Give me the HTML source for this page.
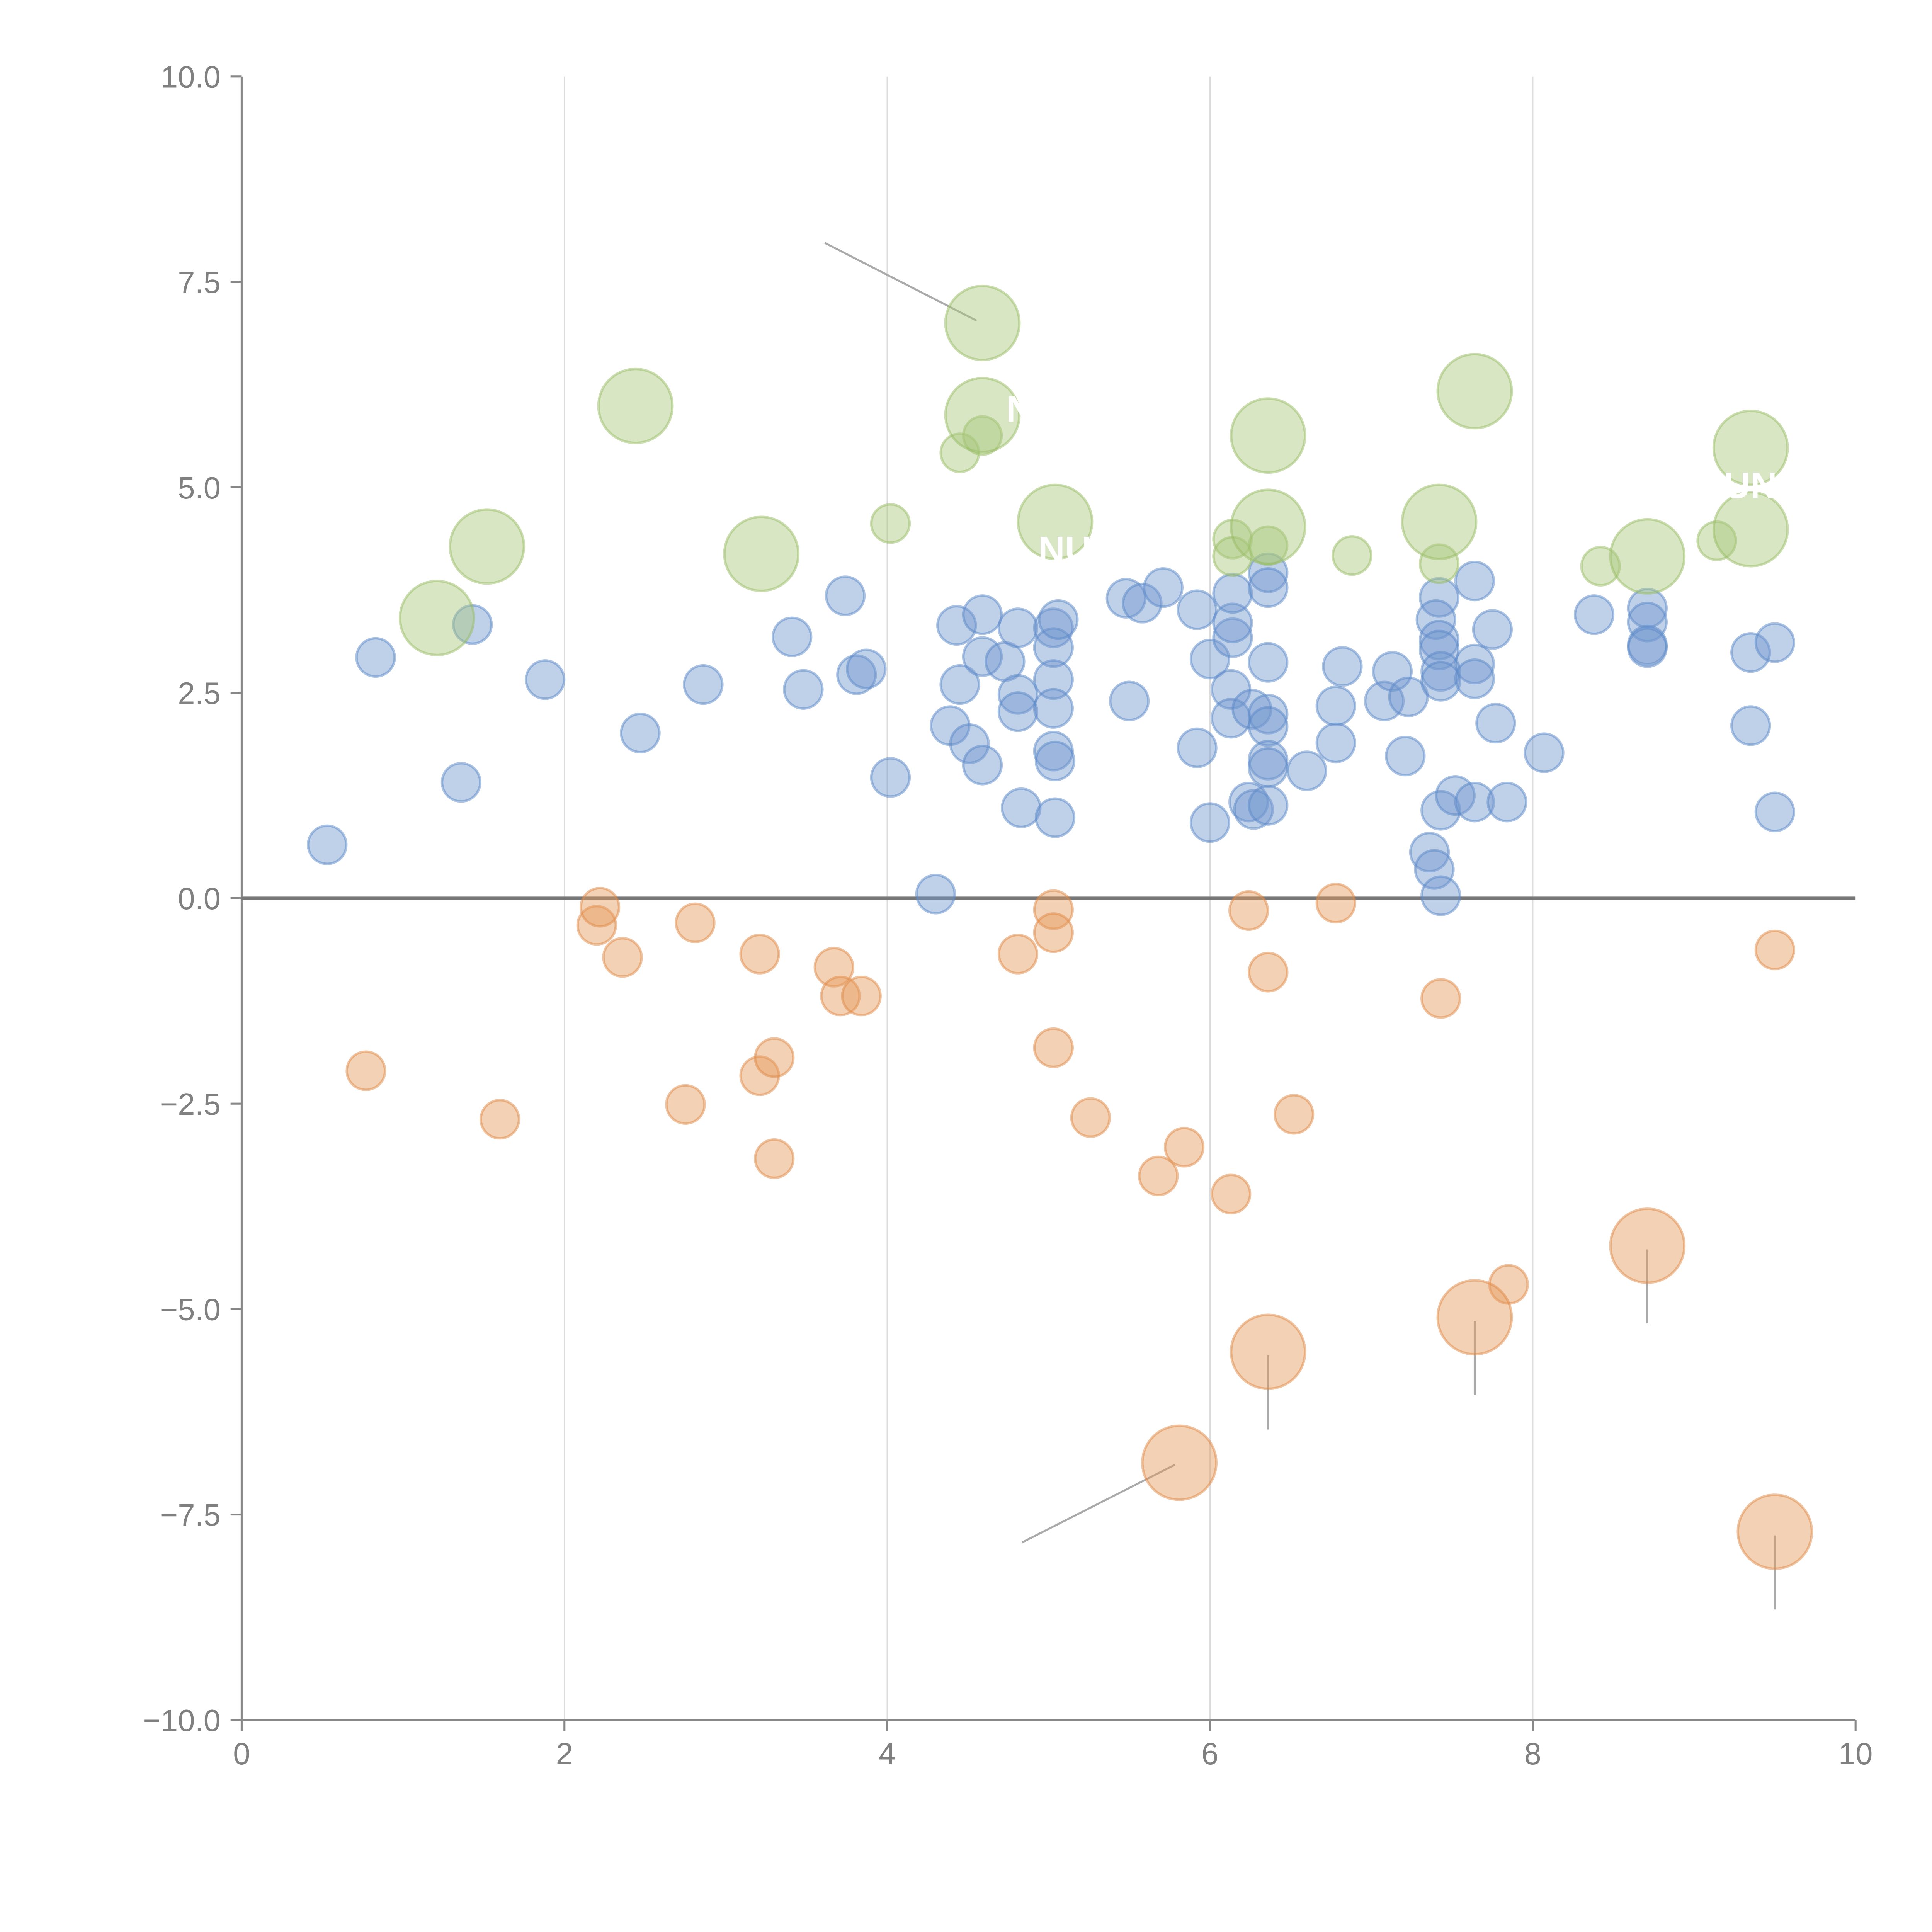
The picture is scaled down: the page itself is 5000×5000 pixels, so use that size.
<!DOCTYPE html>
<html><head><meta charset="utf-8"><style>
html,body{margin:0;padding:0;background:#fff;width:5000px;height:5000px;overflow:hidden}
svg{display:block}
text{font-family:"Liberation Sans",sans-serif;fill:#808080}
</style></head><body>
<svg id="chart" width="5000" height="5000" viewBox="0 0 1567 1567" xmlns="http://www.w3.org/2000/svg">
<g id="grid"></g>
<g id="axes"></g>
<g id="leaders"></g>
<g id="marks"></g>
<g id="labels">
<text x="842" y="456" style="fill:#fff;font-size:30px;font-weight:bold">NU</text>
<text x="1398" y="404" style="fill:#fff;font-size:30px;font-weight:bold">UN</text>
<text x="816" y="342" style="fill:#fff;font-size:30px;font-weight:bold">N</text>
</g>
</svg>
<script>
const xTicks=[0,2,4,6,8,10];
const yTicks=[-10,-7.5,-5,-2.5,0,2.5,5,7.5,10];
const yTickLabels=["\u221210.0","\u22127.5","\u22125.0","\u22122.5","0.0","2.5","5.0","7.5","10.0"];
const blueX=[0.53,0.83,1.43,1.36,1.88,2.47,2.86,3.41,3.48,3.74,3.81,3.87,4.02,4.3,4.39,4.43,4.45,4.51,4.59,4.59,4.59,4.73,4.81,4.81,4.81,4.83,5.03,5.03,5.03,5.03,5.03,5.04,5.04,5.06,5.48,5.5,5.58,5.71,5.92,5.92,6.0,6.0,6.13,6.13,6.14,6.14,6.14,6.26,6.24,6.27,6.36,6.36,6.36,6.36,6.36,6.36,6.36,6.36,6.6,6.78,6.78,6.82,7.08,7.13,7.21,7.23,7.36,7.39,7.42,7.4,7.42,7.42,7.43,7.43,7.43,7.43,7.52,7.64,7.64,7.64,7.64,7.75,7.77,7.84,8.07,8.38,8.71,8.71,8.71,8.71,9.35,9.35,9.5,9.5];
const blueY=[0.65,2.93,3.33,1.41,2.66,2.01,2.6,3.18,2.54,3.68,2.72,2.79,1.47,0.05,2.1,3.32,2.6,1.88,3.45,2.94,1.62,2.88,3.29,2.48,2.27,1.1,3.29,3.05,2.66,2.31,1.79,1.67,0.98,3.39,3.65,2.4,3.59,3.78,3.51,1.83,2.91,0.92,2.54,2.19,3.17,3.35,3.71,2.3,1.17,1.08,3.96,3.78,2.87,2.24,2.09,1.68,1.59,1.13,1.55,2.34,1.89,2.82,2.4,2.76,1.73,2.45,0.56,0.35,3.66,3.39,3.14,3.02,2.76,2.64,1.07,0.03,1.25,3.86,2.85,2.67,1.17,3.27,2.13,1.17,1.77,3.45,3.53,3.36,3.08,3.05,2.99,2.1,3.11,1.05];
const orangeX=[0.77,1.6,2.2,2.22,2.36,2.75,2.81,3.21,3.21,3.3,3.3,3.67,3.71,3.84,4.81,5.03,5.03,5.03,5.26,5.68,5.84,6.13,6.24,6.36,6.52,6.78,7.43,7.85,9.5];
const orangeY=[-2.1,-2.69,-0.33,-0.11,-0.72,-2.51,-0.3,-0.68,-2.16,-1.94,-3.17,-0.84,-1.19,-1.19,-0.68,-0.14,-0.42,-1.82,-2.67,-3.38,-3.03,-3.6,-0.15,-0.9,-2.63,-0.06,-1.22,-4.7,-0.63];
const orangeBigX=[5.81,6.36,7.64,8.71,9.5];
const orangeBigY=[-6.87,-5.52,-5.1,-4.23,-7.71];
const greenBigX=[1.21,1.52,2.44,3.22,4.59,4.59,5.04,6.36,6.36,7.42,7.64,8.71,9.35,9.35];
const greenBigY=[3.41,4.28,5.99,4.19,7.0,5.88,4.58,5.63,4.52,4.58,6.17,4.16,5.48,4.49];
const greenX=[4.45,4.59,4.02,6.14,6.14,6.36,6.88,7.42,8.42,9.14];
const greenY=[5.42,5.63,4.56,4.37,4.16,4.29,4.17,4.07,4.04,4.35];

const NS="http://www.w3.org/2000/svg";
const X0=196,X1=1505,Y0=1395,Y1=62;
function sx(v){return X0+(v-0)/(10-0)*(X1-X0);}
function sy(v){return Y0-(v+10)/20*(Y0-Y1);}
function mk(tag,attrs,parent){const e=document.createElementNS(NS,tag);for(const k in attrs)e.setAttribute(k,attrs[k]);parent.appendChild(e);return e;}
const grid=document.getElementById('grid'),axes=document.getElementById('axes'),marks=document.getElementById('marks'),leaders=document.getElementById('leaders');

xTicks.forEach(t=>{
  if(t>0&&t<10){const g=mk('line',{x1:sx(t),x2:sx(t),y1:Y1,y2:Y0,stroke:'#dcdcdc','stroke-width':1},grid);
  
  }
  const tk=mk('line',{x1:sx(t),x2:sx(t),y1:Y0,y2:Y0+9,stroke:'#888','stroke-width':1.6},axes);
  
  
  const tl=mk('text',{x:sx(t),y:Y0+36,'text-anchor':'middle','font-size':25},axes);
  tl.textContent=String(t);
  
  
});
yTicks.forEach((t,i)=>{
  const tk=mk('line',{x1:X0-9,x2:X0,y1:sy(t),y2:sy(t),stroke:'#888','stroke-width':1.6},axes);
  
  
  const tl=mk('text',{x:X0-17,y:sy(t)+9,'text-anchor':'end','font-size':25},axes);
  tl.textContent=yTickLabels[i];
  
  
});
const ya=mk('line',{x1:X0,x2:X0,y1:Y1,y2:Y0,stroke:'#888','stroke-width':1.6},axes);


const xa=mk('line',{x1:X0,x2:X1,y1:Y0,y2:Y0,stroke:'#888','stroke-width':2},axes);


const zl=mk('line',{x1:X0,x2:X1,y1:sy(0),y2:sy(0),stroke:'#777','stroke-width':2.6},axes);



function bubbles(xs,ys,r,fill,stroke,name){
  xs.forEach((x,i)=>{
    const c=mk('circle',{cx:sx(x),cy:sy(ys[i]),r:r,fill:fill,'fill-opacity':0.45,stroke:stroke,'stroke-opacity':0.5,'stroke-width':2},marks);
    
    
  });
}
bubbles(blueX,blueY,15.5,'#7097cf','#5a87c8','bubble-blue');
bubbles(orangeX,orangeY,15.5,'#e59a5c','#e08a45','bubble-orange');
bubbles(orangeBigX,orangeBigY,30,'#e59a5c','#e08a45','bubble-orange-large');
bubbles(greenX,greenY,15.5,'#a9c77c','#98bb64','bubble-green');
bubbles(greenBigX,greenBigY,30,'#a9c77c','#98bb64','bubble-green-large');

const L1=mk('line',{x1:669,y1:197,x2:792,y2:260,stroke:'#aaa','stroke-width':1.6},leaders);


const L2=mk('line',{x1:829,y1:1251,x2:953,y2:1188,stroke:'#aaa','stroke-width':1.6},leaders);


orangeBigX.slice(1).forEach((x,i)=>{
  const yy=sy(orangeBigY[i+1]);
  const l=mk('line',{x1:sx(x),x2:sx(x),y1:yy+3,y2:yy+63,stroke:'#aaa','stroke-width':1.6},leaders);
  
  
});
</script>
</body></html>
